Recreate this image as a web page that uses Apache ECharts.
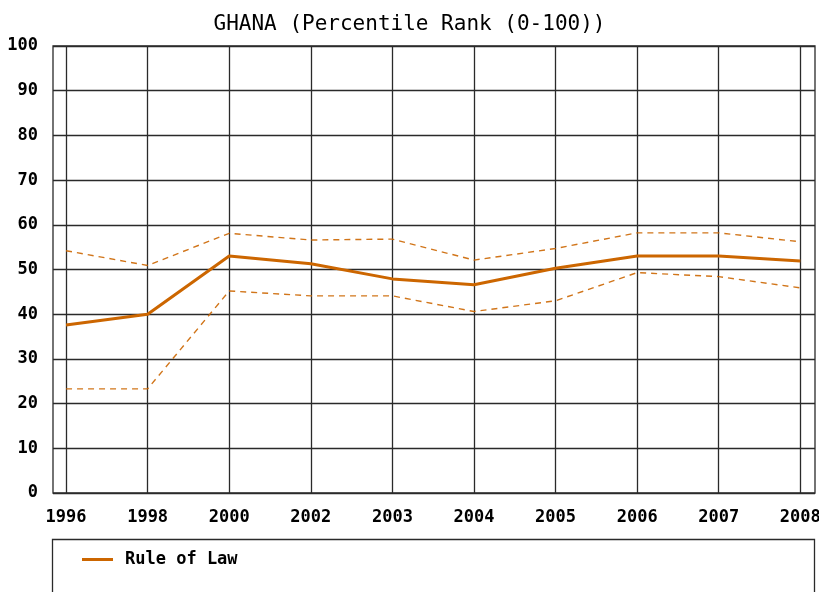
<!DOCTYPE html>
<html>
<head>
<meta charset="utf-8">
<script src="https://cdn.jsdelivr.net/npm/echarts@6/dist/echarts.min.js"></script>
<style>
  html, body { margin: 0; padding: 0; background: #fff; }
  #chart { width: 819px; height: 592px; }
</style>
</head>
<body>
<div id="chart"></div>
<script>
var years = ['1996', '1998', '2000', '2002', '2003', '2004', '2005', '2006', '2007', '2008'];
var ruleOfLaw = [37.6, 40.0, 53.0, 51.3, 47.9, 46.6, 50.3, 53.0, 53.0, 51.9];
var upperBound = [54.2, 50.9, 58.1, 56.6, 56.8, 52.1, 54.7, 58.2, 58.2, 56.2];
var lowerBound = [23.3, 23.3, 45.2, 44.1, 44.1, 40.6, 43.0, 49.3, 48.4, 45.9];
var yTicks = [0, 10, 20, 30, 40, 50, 60, 70, 80, 90, 100];

var monoFont = '"DejaVu Sans Mono", "Liberation Mono", monospace';
var lineColor = '#cc6600';
var gridColor = '#2a2a2a';

function toPairs(values) {
    return values.map(function (v, i) { return [i, v]; });
}

var chartDom = document.getElementById('chart');
var myChart = echarts.init(chartDom);

var idx = years.map(function (y, i) { return i; });

var option = {
    animation: false,
    title: {
        text: 'GHANA (Percentile Rank (0-100))',
        left: 'center',
        top: 9,
        textStyle: {
            fontFamily: monoFont,
            fontSize: 21,
            fontWeight: 'normal',
            color: '#000'
        }
    },
    grid: {
        left: 53,
        right: 4,
        top: 46,
        bottom: 99,
        outerBoundsMode: 'none',
        containLabel: false,
        show: true,
        borderColor: gridColor,
        borderWidth: 1.3
    },
    xAxis: {
        type: 'value',
        min: -0.16,
        max: 9.18,
        axisLine: { show: false },
        axisTick: { show: false, customValues: idx },
        axisLabel: {
            customValues: idx,
            margin: 16,
            color: '#000',
            fontFamily: monoFont,
            fontSize: 17,
            fontWeight: 'bold',
            formatter: function (v) { return years[Math.round(v)]; }
        },
        splitLine: {
            show: true,
            lineStyle: { color: gridColor, width: 1.3 }
        }
    },
    yAxis: {
        type: 'value',
        min: 0,
        max: 100,
        interval: 10,
        axisLine: { show: false },
        axisTick: { show: false },
        axisLabel: {
            margin: 15,
            color: '#000',
            fontFamily: monoFont,
            fontSize: 17,
            fontWeight: 'bold'
        },
        splitLine: {
            show: true,
            lineStyle: { color: gridColor, width: 1.3 }
        }
    },
    legend: {
        data: ['Rule of Law'],
        left: 77,
        top: 546,
        icon: 'rect',
        itemWidth: 31,
        itemHeight: 3,
        textStyle: {
            fontFamily: monoFont,
            fontSize: 17,
            fontWeight: 'bold',
            color: '#000',
            padding: [0, 0, 0, 7]
        }
    },
    graphic: [
        {
            type: 'rect',
            shape: { x: 52.5, y: 539.5, width: 762, height: 80 },
            style: { fill: 'none', stroke: gridColor, lineWidth: 1.3 }
        }
    ],
    series: [
        {
            name: 'Upper',
            type: 'line',
            data: toPairs(upperBound),
            showSymbol: false,
            lineStyle: { color: lineColor, width: 1.4, type: [6, 5], opacity: 0.9 }
        },
        {
            name: 'Lower',
            type: 'line',
            data: toPairs(lowerBound),
            showSymbol: false,
            lineStyle: { color: lineColor, width: 1.4, type: [6, 5], opacity: 0.9 }
        },
        {
            name: 'Rule of Law',
            type: 'line',
            data: toPairs(ruleOfLaw),
            showSymbol: false,
            itemStyle: { color: lineColor },
            lineStyle: { color: lineColor, width: 3 }
        }
    ]
};
myChart.setOption(option);
</script>
</body>
</html>
